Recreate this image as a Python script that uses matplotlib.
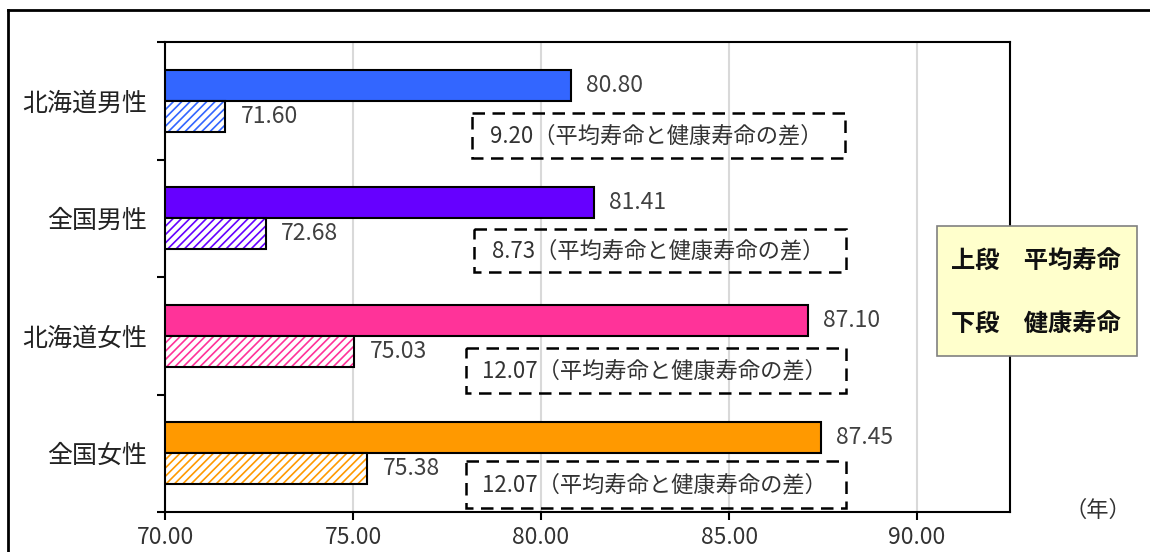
import matplotlib
matplotlib.use("Agg")
import matplotlib.pyplot as plt
from matplotlib.patches import Rectangle
from matplotlib.lines import Line2D

plt.rcParams['font.family'] = ['Noto Sans CJK JP', 'DejaVu Sans']
plt.rcParams['hatch.linewidth'] = 1.2

# data
categories = ["北海道男性", "全国男性", "北海道女性", "全国女性"]
avg_life = [80.80, 81.41, 87.10, 87.45]       # 平均寿命
healthy_life = [71.60, 72.68, 75.03, 75.38]   # 健康寿命
colors = ["#3366FF", "#6600FF", "#FF3399", "#FF9900"]
x_ticks = [70, 75, 80, 85, 90]

W, H = 1150, 552
fig = plt.figure(figsize=(W / 100, H / 100), dpi=100)
ax = fig.add_axes([165 / W, 1 - 512 / H, 845 / W, 470 / H])

bar_h = 0.264
base = 70
for i, cat in enumerate(categories):
    # upper bar: average life expectancy
    ax.barh(i - bar_h / 2, avg_life[i] - base, left=base, height=bar_h,
            color=colors[i], edgecolor="black", linewidth=1.5, zorder=3)
    # lower bar: healthy life expectancy (hatched)
    ax.barh(i + bar_h / 2, healthy_life[i] - base, left=base, height=bar_h,
            facecolor="white", edgecolor=colors[i], hatch="////", linewidth=0, zorder=3)
    ax.barh(i + bar_h / 2, healthy_life[i] - base, left=base, height=bar_h,
            fill=False, edgecolor="black", linewidth=1.5, zorder=4)

    ax.annotate(f"{avg_life[i]:.2f}", (avg_life[i], i - bar_h / 2),
                xytext=(11, 0), textcoords="offset points",
                ha="left", va="center", fontsize=16.5, color="#404040")
    ax.annotate(f"{healthy_life[i]:.2f}", (healthy_life[i], i + bar_h / 2),
                xytext=(11, 0), textcoords="offset points",
                ha="left", va="center", fontsize=16.5, color="#404040")

# dashed boxes with the difference
boxes = [(78.16, 88.08, 0.104, 0.487, 78.64),
         (78.22, 88.11, 0.091, 0.457, 78.70),
         (78.00, 88.11, 0.104, 0.487, 78.43),
         (78.00, 88.11, 0.066, 0.466, 78.43)]
for i, (x0, x1, y0, y1, tx) in enumerate(boxes):
    gap = avg_life[i] - healthy_life[i]
    ax.add_patch(Rectangle((x0, i + y0), x1 - x0, y1 - y0, fill=False,
                           edgecolor="black", linewidth=1.8,
                           linestyle=(0, (5, 3)), zorder=5))
    ax.text(tx, i + (y0 + y1) / 2, f"{gap:.2f}（平均寿命と健康寿命の差）",
            ha="left", va="center", fontsize=16, color="#333333", zorder=6)

ax.set_xlim(70, 92.47)
ax.set_ylim(3.5, -0.5)
ax.set_xticks(x_ticks)
ax.set_xticklabels([f"{v:.2f}" for v in x_ticks], fontsize=16.5, color="#333333")
ax.set_yticks(range(len(categories)))
ax.set_yticklabels(categories, fontsize=18, color="#222222")
ax.set_yticks([-0.5, 0.5, 1.5, 2.5, 3.5], minor=True)
ax.tick_params(axis="y", which="major", length=0, pad=13)
ax.tick_params(axis="y", which="minor", length=6, width=1.5, direction="out")
ax.tick_params(axis="x", length=6, width=1.5, direction="out", pad=4)
ax.xaxis.grid(True, color="#D9D9D9", linewidth=1.5, zorder=0)
ax.set_axisbelow(True)
for s in ax.spines.values():
    s.set_linewidth(1.5)

# outer frame
fig.add_artist(Line2D([8 / W, 8 / W], [-0.1, 1 - 10 / H], transform=fig.transFigure,
                      color="black", linewidth=2))
fig.add_artist(Line2D([8 / W, 1.1], [1 - 10 / H, 1 - 10 / H], transform=fig.transFigure,
                      color="black", linewidth=2))

# legend note box
fig.add_artist(Rectangle((937 / W, 1 - 356 / H), 200 / W, 130 / H,
                         transform=fig.transFigure, facecolor="#FFFFCC",
                         edgecolor="#808080", linewidth=1.2, zorder=10))
fig.text(951 / W, 1 - 262 / H, "上段　平均寿命", ha="left", va="center",
         fontsize=17.5, fontweight="bold", color="#111111", zorder=11)
fig.text(951 / W, 1 - 325 / H, "下段　健康寿命", ha="left", va="center",
         fontsize=17.5, fontweight="bold", color="#111111", zorder=11)

fig.text(1098 / W, 1 - 510 / H, "（年）", ha="center", va="center",
         fontsize=16, color="#333333")

fig.savefig("out.png", dpi=100)
